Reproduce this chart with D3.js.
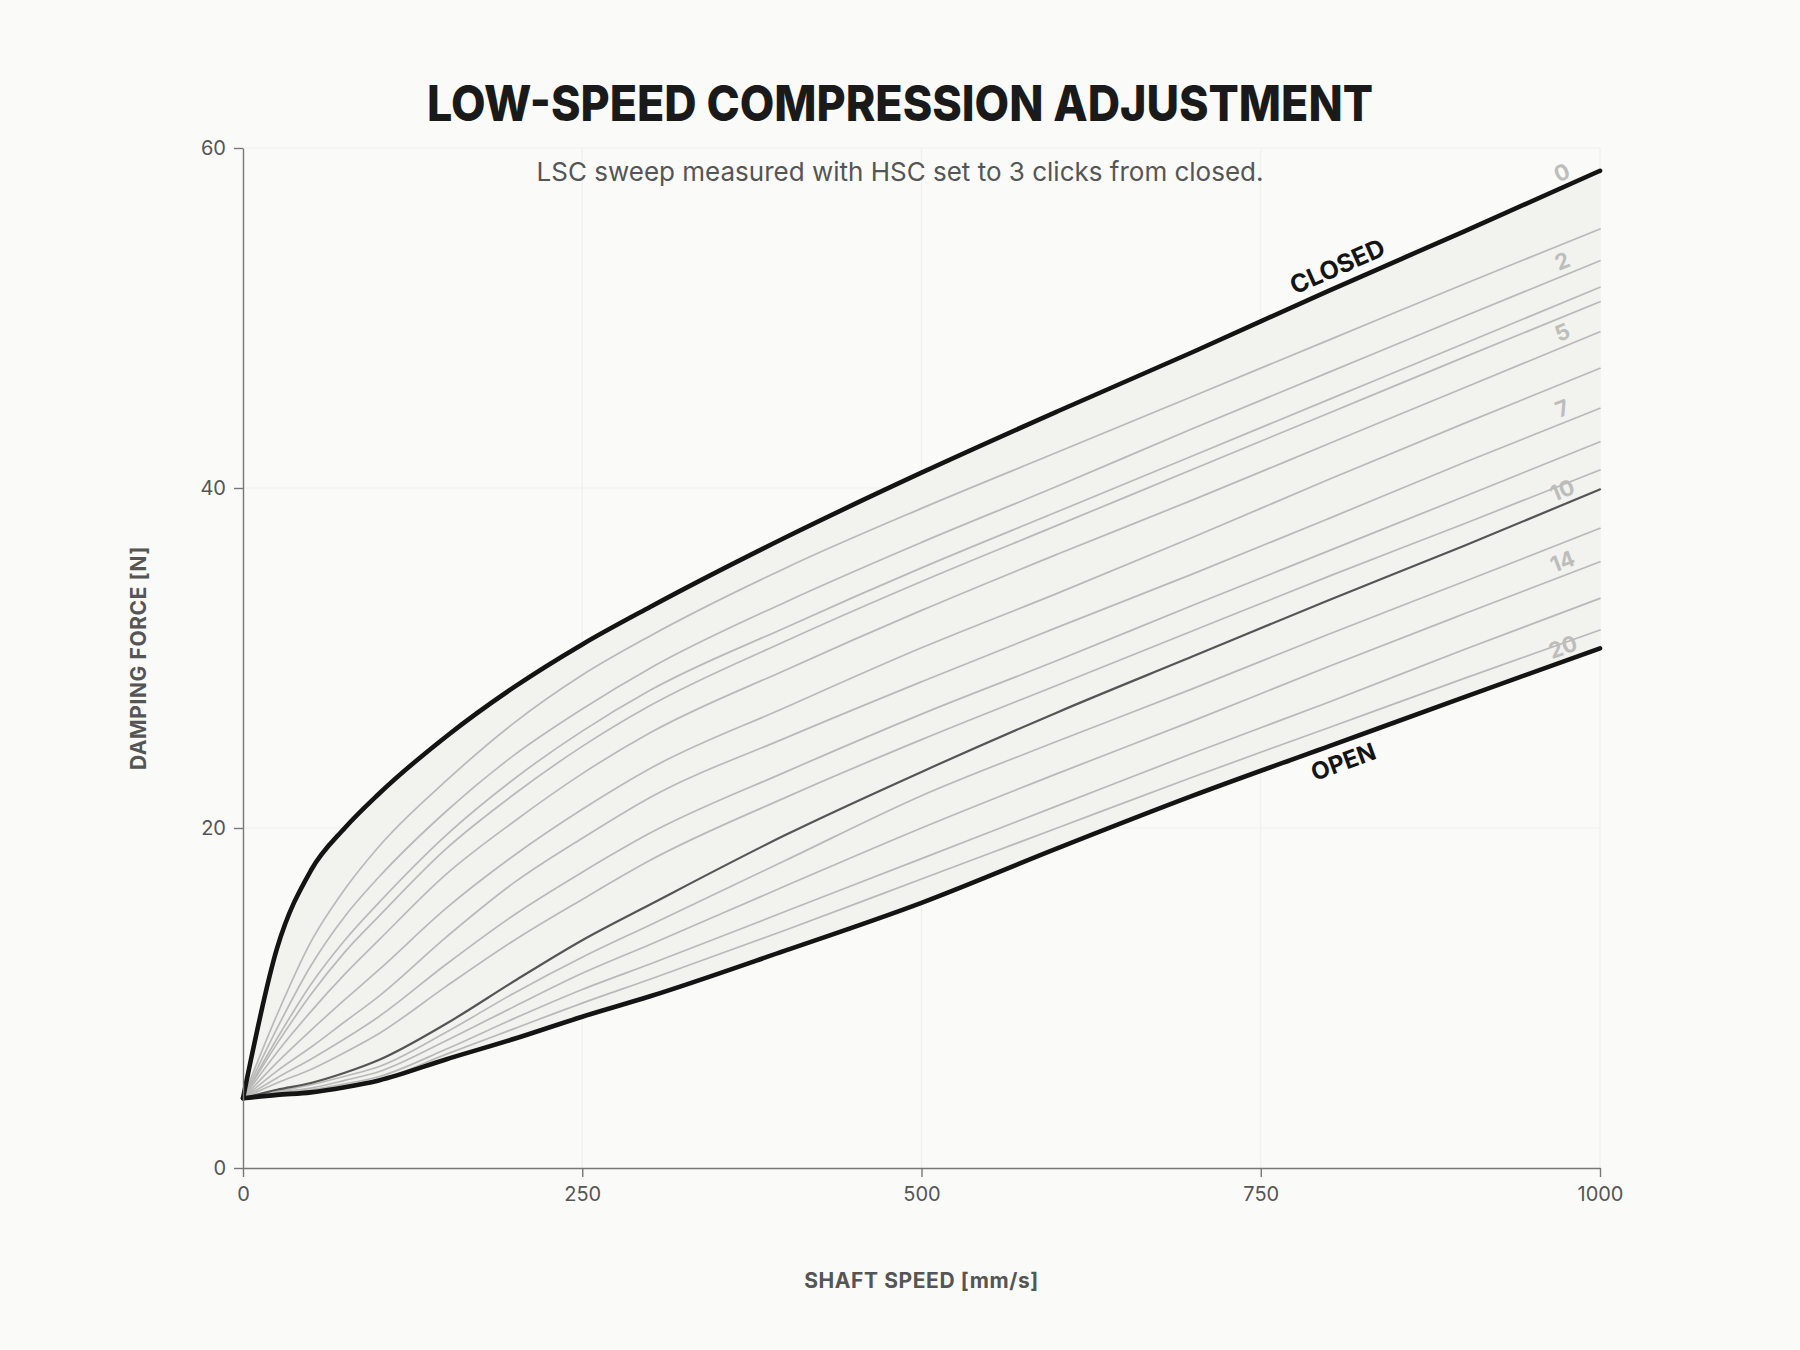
<!DOCTYPE html>
<html>
<head>
<meta charset="utf-8">
<script src="https://cdn.jsdelivr.net/npm/d3@7"></script>
<style>
  body { margin: 0; background: #fafaf8; }
  text { font-family: Inter, "Noto Sans", sans-serif; }
</style>
</head>
<body>
<div id="chart"></div>
<script>
// shaft speed samples [mm/s]
const speeds = [0, 25, 50, 75, 100, 150, 200, 250, 300, 400, 500, 600, 700, 800, 900, 1000];

// damping force [N] per LSC click from closed
const click0  = [4.1, 12.9, 17.5, 20.0, 22.0, 25.4, 28.3, 30.8, 33.0, 37.1, 40.9, 44.5, 48.0, 51.6, 55.1, 58.66];
const click1  = [4.1, 9.0, 13.3, 16.4, 18.9, 22.8, 26.2, 29.0, 31.3, 35.3, 38.8, 42.1, 45.4, 48.7, 52.0, 55.24];
const click2  = [4.1, 8.2, 11.9, 14.8, 17.1, 21.0, 24.3, 27.0, 29.4, 33.3, 36.8, 40.1, 43.5, 46.8, 50.1, 53.37];
const click3  = [4.1, 7.6, 10.8, 13.4, 15.6, 19.6, 22.9, 25.7, 28.1, 31.8, 35.3, 38.6, 41.9, 45.2, 48.5, 51.81];
const click4  = [4.1, 7.3, 10.2, 12.7, 14.8, 18.8, 22.0, 24.8, 27.2, 31.0, 34.5, 37.8, 41.1, 44.4, 47.7, 50.96];
const click5  = [4.1, 6.8, 9.2, 11.4, 13.4, 17.3, 20.4, 23.2, 25.6, 29.3, 32.8, 36.1, 39.3, 42.6, 45.9, 49.19];
const click6  = [4.1, 6.2, 8.1, 9.9, 11.65, 15.3, 18.4, 21.1, 23.5, 27.1, 30.6, 33.8, 37.1, 40.5, 43.8, 47.04];
const click7  = [4.1, 5.7, 7.1, 8.6, 10.1, 13.6, 16.8, 19.4, 21.8, 25.3, 28.6, 31.8, 34.95, 38.2, 41.5, 44.69];
const click8  = [4.1, 5.3, 6.4, 7.6, 8.9, 12.0, 14.9, 17.4, 19.7, 23.3, 26.7, 29.85, 33.1, 36.3, 39.5, 42.72];
const click9  = [4.1, 5.0, 5.8, 6.8, 7.9, 10.7, 13.4, 15.8, 18.1, 21.8, 25.2, 28.4, 31.6, 34.8, 37.9, 41.06];
const click10 = [4.1, 4.6, 5.0, 5.6, 6.35, 8.5, 11.0, 13.4, 15.5, 19.6, 23.3, 26.8, 30.1, 33.4, 36.6, 39.92];
const click12 = [4.1, 4.5, 4.9, 5.4, 5.96, 8.0, 10.3, 12.4, 14.3, 18.1, 21.9, 25.1, 28.2, 31.4, 34.5, 37.63];
const click14 = [4.1, 4.45, 4.7, 5.15, 5.66, 7.5, 9.5, 11.45, 13.15, 16.6, 20.0, 23.2, 26.3, 29.5, 32.6, 35.66];
const click16 = [4.1, 4.4, 4.6, 4.95, 5.37, 7.0, 8.8, 10.5, 12.0, 15.1, 18.2, 21.3, 24.4, 27.4, 30.5, 33.51];
const click18 = [4.1, 4.35, 4.55, 4.85, 5.18, 6.7, 8.2, 9.7, 11.1, 14.0, 17.0, 20.0, 23.0, 25.9, 28.8, 31.65];
const click20 = [4.1, 4.3, 4.45, 4.75, 5.15, 6.4, 7.6, 8.9, 10.1, 12.8, 15.6, 18.8, 21.9, 24.8, 27.7, 30.57];

const clicks = [0, 1, 2, 3, 4, 5, 6, 7, 8, 9, 10, 12, 14, 16, 18, 20];
const forces = [click0, click1, click2, click3, click4, click5, click6, click7,
                click8, click9, click10, click12, click14, click16, click18, click20];
const labelledClicks = [0, 2, 5, 7, 10, 14, 20];

const xTicks = [0, 250, 500, 750, 1000];
const yTicks = [0, 20, 40, 60];

const W = 1800, H = 1350;
const margin = { top: 148, right: 200, bottom: 182, left: 243 };

const svg = d3.select("#chart").append("svg")
    .attr("width", W)
    .attr("height", H)
    .style("background", "#fafaf8");

const x = d3.scaleLinear().domain([0, 1000]).range([margin.left, W - margin.right]);
const y = d3.scaleLinear().domain([0, 60]).range([H - margin.bottom, margin.top]);

const series = clicks.map((c, i) => ({
    click: c,
    pts: speeds.map((s, j) => ({ s: s, f: forces[i][j] }))
}));
const closed = series[0], open = series[series.length - 1];

// grid
svg.append("g").selectAll("line").data(yTicks.slice(1)).join("line")
    .attr("x1", x(0)).attr("x2", x(1000))
    .attr("y1", d => y(d)).attr("y2", d => y(d))
    .attr("stroke", "#efefeb").attr("stroke-width", 1.2);
svg.append("g").selectAll("line").data(xTicks.slice(1)).join("line")
    .attr("x1", d => x(d)).attr("x2", d => x(d))
    .attr("y1", y(0)).attr("y2", y(60))
    .attr("stroke", "#efefeb").attr("stroke-width", 1.2);

// band between closed and open
const area = d3.area()
    .x(d => x(d.s))
    .y0((d, i) => y(open.pts[i].f))
    .y1(d => y(d.f))
    .curve(d3.curveMonotoneX);
svg.append("path")
    .datum(closed.pts)
    .attr("d", area)
    .attr("fill", "#f2f2ef");

const line = d3.line()
    .x(d => x(d.s))
    .y(d => y(d.f))
    .curve(d3.curveMonotoneX);

const isBold = d => d.click === 0 || d.click === 20;
const order = series.filter(d => !isBold(d) && d.click !== 10)
    .concat(series.filter(d => d.click === 10))
    .concat([closed, open]);

svg.append("g").selectAll("path").data(order).join("path")
    .attr("d", d => line(d.pts))
    .attr("fill", "none")
    .attr("stroke", d => isBold(d) ? "#141414" : d.click === 10 ? "#555" : "#b9b9b7")
    .attr("stroke-width", d => isBold(d) ? 4.6 : d.click === 10 ? 2.2 : 1.7)
    .attr("stroke-linejoin", "round")
    .attr("stroke-linecap", "round");

// axes
const xAxis = svg.append("g")
    .attr("transform", `translate(0,${y(0)})`)
    .call(d3.axisBottom(x).tickValues(xTicks).tickFormat(d3.format("d"))
        .tickSize(9).tickSizeOuter(0).tickPadding(10));
const yAxis = svg.append("g")
    .attr("transform", `translate(${x(0)},0)`)
    .call(d3.axisLeft(y).tickValues(yTicks).tickFormat(d3.format("d"))
        .tickSize(9).tickSizeOuter(0).tickPadding(8));
[xAxis, yAxis].forEach(a => {
    a.select(".domain").attr("stroke", "#777").attr("stroke-width", 1.4);
    a.selectAll(".tick line").attr("stroke", "#777").attr("stroke-width", 1.4);
    a.selectAll(".tick text")
        .attr("fill", "#555")
        .style("font-size", "20px")
        .style("font-family", "Inter, sans-serif");
});

// position + angle along a series at a given speed
function along(s, speed) {
    const j = d3.bisectLeft(speeds, speed);
    const a = s.pts[j - 1], b = s.pts[j];
    const t = (speed - a.s) / (b.s - a.s);
    const px = x(speed);
    const py = y(a.f + (b.f - a.f) * t);
    const ang = Math.atan2(y(b.f) - y(a.f), x(b.s) - x(a.s)) * 180 / Math.PI;
    return { px, py, ang };
}

// click labels at right end
svg.append("g").selectAll("text").data(series.filter(d => labelledClicks.includes(d.click))).join("text")
    .attr("transform", d => {
        const p = along(d, 976);
        return `translate(${p.px},${p.py}) rotate(${p.ang})`;
    })
    .attr("dy", -6)
    .attr("text-anchor", "middle")
    .attr("fill", "#bdbdbb")
    .style("font-size", "22px")
    .style("font-weight", 700)
    .text(d => d.click);

// CLOSED / OPEN labels
const pc = along(closed, 812);
svg.append("text")
    .attr("transform", `translate(${pc.px},${pc.py}) rotate(${pc.ang})`)
    .attr("dy", -10)
    .attr("text-anchor", "middle")
    .attr("fill", "#141414")
    .style("font-size", "25px")
    .style("font-weight", 700)
    .text("CLOSED");
const po = along(open, 806);
svg.append("text")
    .attr("transform", `translate(${po.px},${po.py}) rotate(${po.ang})`)
    .attr("dy", 28)
    .attr("text-anchor", "middle")
    .attr("fill", "#141414")
    .style("font-size", "24px")
    .style("font-weight", 700)
    .text("OPEN");

// titles
svg.append("text")
    .attr("x", 900).attr("y", 121)
    .attr("text-anchor", "middle")
    .attr("fill", "#1a1a1a")
    .attr("textLength", 946)
    .attr("lengthAdjust", "spacingAndGlyphs")
    .style("font-size", "50px")
    .style("font-weight", 800)
    .text("LOW-SPEED COMPRESSION ADJUSTMENT");

svg.append("text")
    .attr("x", 900).attr("y", 181)
    .attr("text-anchor", "middle")
    .attr("fill", "#555")
    .style("font-size", "26px")
    .text("LSC sweep measured with HSC set to 3 clicks from closed.");

svg.append("text")
    .attr("x", (x(0) + x(1000)) / 2).attr("y", 1288)
    .attr("text-anchor", "middle")
    .attr("fill", "#555")
    .style("font-size", "21px")
    .style("font-weight", 700)
    .style("letter-spacing", "0.6px")
    .text("SHAFT SPEED [mm/s]");

svg.append("text")
    .attr("transform", `translate(146,${(y(0) + y(60)) / 2}) rotate(-90)`)
    .attr("text-anchor", "middle")
    .attr("fill", "#555")
    .style("font-size", "21px")
    .style("font-weight", 700)
    .style("letter-spacing", "0.6px")
    .text("DAMPING FORCE [N]");
</script>
</body>
</html>
